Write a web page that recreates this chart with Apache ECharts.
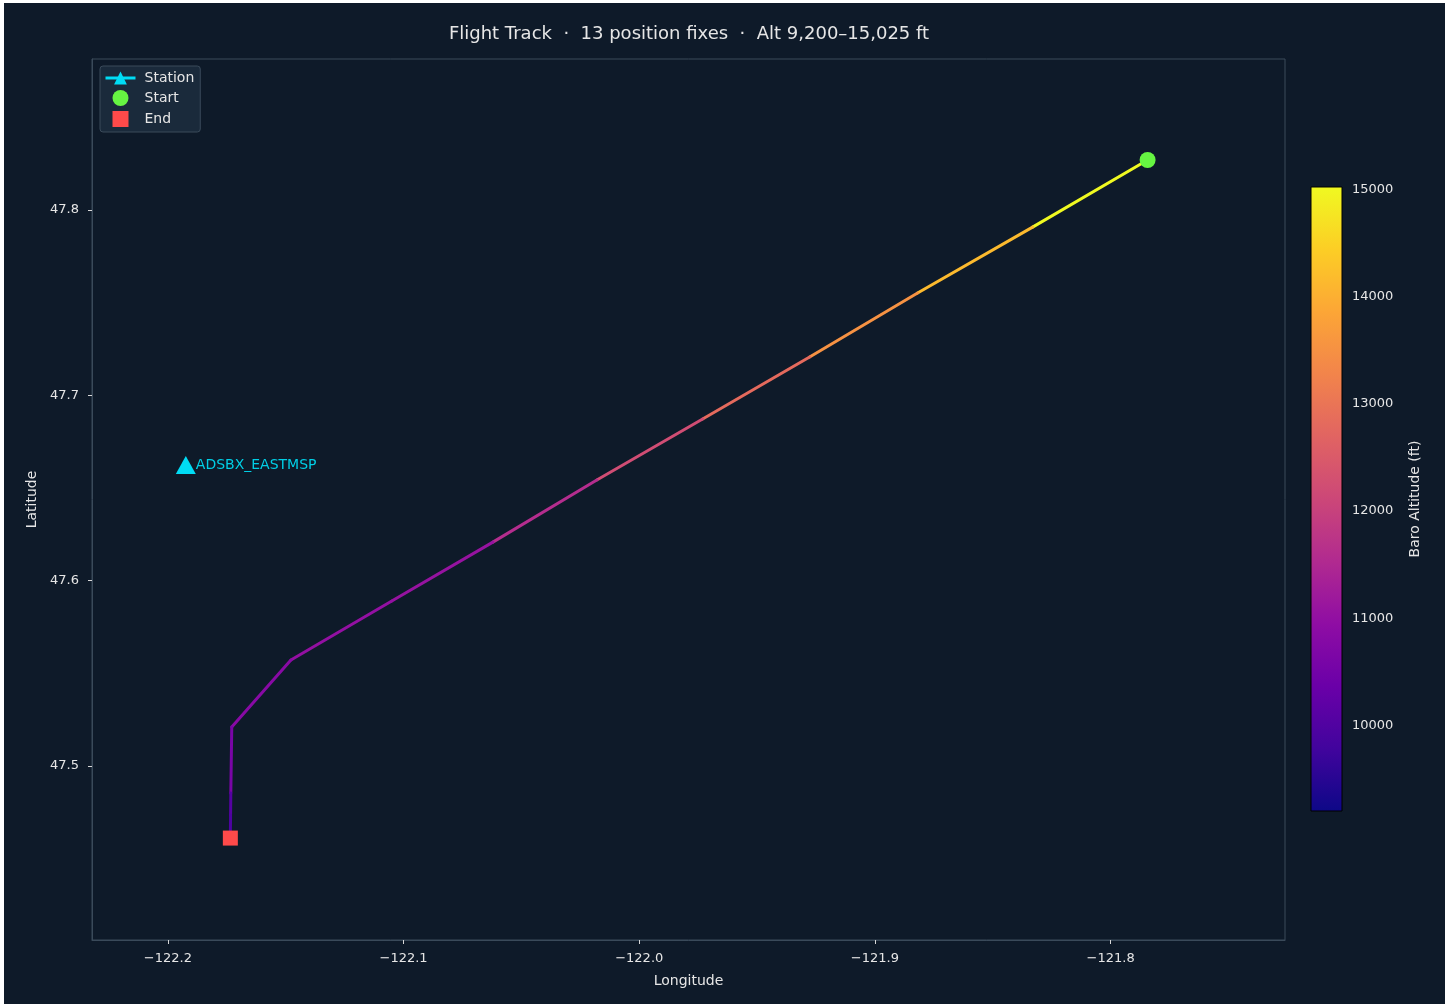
<!DOCTYPE html>
<html>
<head>
<meta charset="utf-8">
<script src="https://cdn.jsdelivr.net/npm/echarts@6/dist/echarts.min.js"></script>
<style>
html,body{margin:0;padding:0;background:#ffffff;}
#chart{position:absolute;left:4px;top:3px;width:1441px;height:1001px;}
</style>
</head>
<body>
<div id="chart"></div>
<script>
// ---- data ----
const trackLon = [-121.7843, -121.8331, -121.8819, -121.9277, -121.9731, -122.0180, -122.0621, -122.1050, -122.1478, -122.1729, -122.1733, -122.1734, -122.1735];
const trackLat = [47.8270, 47.7908, 47.7552, 47.7207, 47.6872, 47.6543, 47.6208, 47.5890, 47.5572, 47.5210, 47.4854, 47.4735, 47.4611];
const trackAlt = [15025, 14150, 13510, 12810, 12230, 11590, 11065, 11010, 10830, 10600, 10070, 9950, 9200];
const stationName = 'ADSBX_EASTMSP';
const stationLon = [-122.1924];
const stationLat = [47.6624];
const lonTicks = [-122.2, -122.1, -122.0, -121.9, -121.8];
const latTicks = [47.5, 47.6, 47.7, 47.8];
const altTicks = [10000, 11000, 12000, 13000, 14000, 15000];
const altMin = 9200, altMax = 15025;
const titleText = 'Flight Track  \u00b7  13 position fixes  \u00b7  Alt 9,200\u201315,025 ft';

const plasma = ['#0d0887','#41049d','#6a00a8','#8f0da4','#b12a90','#cc4778','#e16462','#f2844b','#fca636','#fcce25','#f0f921'];

// ---- build ----
const segData = [];
for (let i = 0; i < trackLon.length - 1; i++) {
  segData.push([trackLon[i], trackLat[i], trackLon[i+1], trackLat[i+1], trackAlt[i]]);
}
const FONT = 'DejaVu Sans';
const BG = '#0e1a29';
const SPINE = '#3a4a5a';
const TXT = '#e6e6e6';
const fmtLon = v => (v < 0 ? '\u2212' : '') + Math.abs(v).toFixed(1);

const chart = echarts.init(document.getElementById('chart'));
const option = {
  backgroundColor: BG,
  animation: false,
  graphic: [{
    type: 'text', x: 685, y: 22,
    style: { text: titleText, fill: TXT, font: '18px "' + FONT + '"', textAlign: 'center', textVerticalAlign: 'top' }
  }],
  legend: {
    orient: 'vertical', left: 96, top: 63,
    data: [
      { name: 'Station' },
      { name: 'Start' },
      { name: 'End', icon: 'path://M0,0L10,0L10,10L0,10Z' }
    ],
    backgroundColor: '#1a2a3b', borderColor: SPINE, borderWidth: 1, borderRadius: 3,
    padding: [5, 6, 5, 4], itemGap: 5, itemWidth: 30, itemHeight: 16,
    lineStyle: { width: 3 },
    textStyle: { color: TXT, fontSize: 14, fontFamily: FONT, padding: [0, 0, 0, 4] }
  },
  grid: [
    { left: 88, top: 56, width: 1193, height: 881, show: true, borderColor: SPINE, borderWidth: 1, backgroundColor: BG },
    { left: 1307, top: 184, width: 31, height: 624 }
  ],
  xAxis: [{
    gridIndex: 0, type: 'value', min: -122.2322, max: -121.726,
    name: 'Longitude', nameLocation: 'middle', nameGap: 34,
    nameTextStyle: { color: TXT, fontSize: 14, fontFamily: FONT },
    axisLine: { show: true, lineStyle: { color: SPINE } },
    axisTick: { show: true, customValues: lonTicks, length: 4, lineStyle: { color: '#d8d8d8' } },
    axisLabel: { customValues: lonTicks, formatter: fmtLon, color: TXT, fontSize: 13, fontFamily: FONT, margin: 12 },
    splitLine: { show: false }
  }, {
    gridIndex: 1, type: 'value', min: 0, max: 1, show: false
  }],
  yAxis: [{
    gridIndex: 0, type: 'value', min: 47.4061, max: 47.8815,
    name: 'Latitude', nameLocation: 'middle', nameGap: 52,
    nameTextStyle: { color: TXT, fontSize: 14, fontFamily: FONT },
    axisLine: { show: true, lineStyle: { color: SPINE } },
    axisTick: { show: true, customValues: latTicks, length: 4, lineStyle: { color: '#d8d8d8' } },
    axisLabel: { customValues: latTicks, formatter: v => v.toFixed(1), color: TXT, fontSize: 13, fontFamily: FONT, margin: 13 },
    splitLine: { show: false }
  }, {
    gridIndex: 1, type: 'value', min: altMin, max: altMax, position: 'right',
    name: 'Baro Altitude (ft)', nameLocation: 'middle', nameGap: 66, nameRotate: 90,
    nameTextStyle: { color: TXT, fontSize: 14, fontFamily: FONT },
    axisLine: { show: false },
    axisTick: { show: true, inside: false, customValues: altTicks, length: 5, lineStyle: { color: '#d8d8d8' } },
    axisLabel: { customValues: altTicks, formatter: v => String(v), color: TXT, fontSize: 13, fontFamily: FONT, margin: 10 },
    splitLine: { show: false }
  }],
  visualMap: [{
    type: 'continuous', show: false, seriesIndex: 0, dimension: 4,
    min: altMin, max: altMax, inRange: { color: plasma }
  }],
  series: [
    {
      type: 'custom', name: 'track', xAxisIndex: 0, yAxisIndex: 0, z: 2,
      encode: { x: [0, 2], y: [1, 3] },
      data: segData,
      renderItem: function (params, api) {
        const p1 = api.coord([api.value(0), api.value(1)]);
        const p2 = api.coord([api.value(2), api.value(3)]);
        return {
          type: 'line',
          shape: { x1: p1[0], y1: p1[1], x2: p2[0], y2: p2[1] },
          style: { stroke: api.visual('color'), lineWidth: 3, lineCap: 'round' }
        };
      }
    },
    {
      type: 'line', name: 'Station', xAxisIndex: 0, yAxisIndex: 0, z: 5,
      data: [[stationLon[0], stationLat[0]]],
      symbol: 'triangle', symbolSize: [20, 18], showSymbol: true,
      itemStyle: { color: '#00dcf5', opacity: 1 },
      lineStyle: { color: '#00dcf5', width: 3 },
      label: { show: true, position: 'right', distance: 0, formatter: stationName, color: '#00cfe6', fontSize: 14, fontFamily: FONT }
    },
    {
      type: 'scatter', name: 'Start', xAxisIndex: 0, yAxisIndex: 0, z: 6,
      data: [[trackLon[0], trackLat[0]]],
      symbol: 'circle', symbolSize: 16,
      itemStyle: { color: '#66f542', opacity: 1 }
    },
    {
      type: 'scatter', name: 'End', xAxisIndex: 0, yAxisIndex: 0, z: 6,
      data: [[trackLon[trackLon.length - 1], trackLat[trackLat.length - 1]]],
      symbol: 'rect', symbolSize: 15,
      itemStyle: { color: '#ff4a4a', opacity: 1 }
    },
    {
      type: 'custom', name: 'colorbar', xAxisIndex: 1, yAxisIndex: 1, silent: true,
      data: [[0, altMax, 1, altMin]],
      renderItem: function (params, api) {
        const a = api.coord([api.value(0), api.value(1)]);
        const b = api.coord([api.value(2), api.value(3)]);
        const stops = plasma.map((c, i) => ({ offset: 1 - i / (plasma.length - 1), color: c })).reverse();
        return {
          type: 'rect',
          shape: { x: a[0], y: a[1], width: b[0] - a[0], height: b[1] - a[1] },
          style: {
            fill: new echarts.graphic.LinearGradient(0, 0, 0, 1, stops),
            stroke: '#000000', lineWidth: 1
          }
        };
      }
    }
  ]
};
chart.setOption(option);
</script>
</body>
</html>
